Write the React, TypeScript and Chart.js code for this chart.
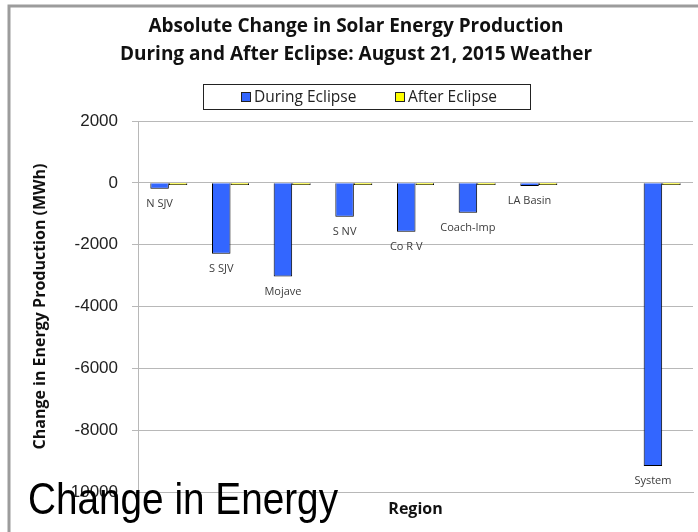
import React, { useEffect, useRef } from "react";
import { Chart, registerables } from "chart.js";

Chart.register(...registerables);

// Regions along the x axis (one empty slot before the system total)
const regions = ["N SJV", "S SJV", "Mojave", "S NV", "Co R V", "Coach-Imp", "LA Basin", "", "System"];
// Change in energy production, MWh
const duringEclipse = [-190, -2290, -3030, -1100, -1580, -970, -100, null, -9160];
const afterEclipse = [-70, -70, -70, -70, -70, -70, -70, null, -70];
const yTicks = [2000, 0, -2000, -4000, -6000, -8000, -10000];

const titleLines = [
  "Absolute Change in Solar Energy Production",
  "During and After Eclipse: August 21, 2015 Weather",
];
const yAxisTitle = "Change in Energy Production (MWh)";
const xAxisTitle = "Region";
const captionText = "Change in Energy";

const seriesColors = ["#3366ff", "#ffff00"];
const barBorder = "#000000";
const gridColor = "#b8b8b8";
const SANS = '"Open Sans", "Noto Sans", sans-serif';
const ARIAL = '"Liberation Sans", Arial, sans-serif';

const decorPlugin = {
  id: "decor",
  beforeDraw(chart: any) {
    const { ctx, width, height } = chart;
    ctx.save();
    ctx.fillStyle = "#ffffff";
    ctx.fillRect(0, 0, width, height);
    // outer frame (left and top edges)
    ctx.strokeStyle = "#9c9c9c";
    ctx.lineWidth = 3;
    ctx.beginPath();
    ctx.moveTo(9, height);
    ctx.lineTo(9, 6);
    ctx.lineTo(width, 6);
    ctx.stroke();
    ctx.restore();
  },
  afterDatasetsDraw(chart: any) {
    const { ctx } = chart;
    const meta = chart.getDatasetMeta(0);
    ctx.save();
    ctx.font = `11px ${SANS}`;
    ctx.fillStyle = "#3c3c3c";
    ctx.textAlign = "center";
    ctx.textBaseline = "middle";
    meta.data.forEach((el: any, i: number) => {
      const name = regions[i];
      if (!name || duringEclipse[i] == null) return;
      ctx.fillText(name, el.x, el.y + 15);
    });
    ctx.restore();
  },
  afterDraw(chart: any) {
    const { ctx } = chart;
    ctx.save();
    // title
    ctx.fillStyle = "#111111";
    ctx.textAlign = "center";
    ctx.textBaseline = "middle";
    ctx.font = `bold 19px ${SANS}`;
    titleLines.forEach((line, i) => ctx.fillText(line, 356, 27 + i * 28));

    // legend box
    ctx.strokeStyle = "#222222";
    ctx.lineWidth = 1;
    ctx.strokeRect(203.5, 84.5, 327, 25);
    ctx.font = `15.5px ${SANS}`;
    ctx.textAlign = "left";
    const itemX = [241, 395];
    chart.data.datasets.forEach((ds: any, i: number) => {
      const x = itemX[i];
      ctx.fillStyle = ds.backgroundColor;
      ctx.fillRect(x + 0.5, 92.5, 9, 9);
      ctx.strokeStyle = "#222222";
      ctx.strokeRect(x + 0.5, 92.5, 9, 9);
      ctx.fillStyle = "#222222";
      ctx.fillText(ds.label, x + 13, 97.5);
    });

    // large caption over the lower-left corner
    ctx.font = `44px ${ARIAL}`;
    ctx.fillStyle = "#000000";
    ctx.textBaseline = "alphabetic";
    const w = ctx.measureText(captionText).width;
    ctx.translate(28, 514);
    ctx.scale(310 / w, 1);
    ctx.fillText(captionText, 0, 0);
    ctx.restore();
  },
};

export default function App() {
  const canvasRef = useRef<HTMLCanvasElement | null>(null);

  useEffect(() => {
    let chart: Chart | null = null;
    let cancelled = false;
    const fontsReady = (document as any).fonts
      ? Promise.all([
          (document as any).fonts.load(`bold 19px "Open Sans"`),
          (document as any).fonts.load(`15px "Open Sans"`),
          (document as any).fonts.load(`17px "Liberation Sans"`),
        ]).catch(() => null)
      : Promise.resolve(null);

    fontsReady.then(() => {
      if (cancelled || !canvasRef.current) return;
      chart = new Chart(canvasRef.current, {
        type: "bar",
        data: {
          labels: regions,
          datasets: [
            {
              label: "During Eclipse",
              data: duringEclipse,
              backgroundColor: seriesColors[0],
              borderColor: barBorder,
              borderWidth: 1,
            },
            {
              label: "After Eclipse",
              data: afterEclipse,
              backgroundColor: seriesColors[1],
              borderColor: barBorder,
              borderWidth: 1,
            },
          ],
        },
        options: {
          responsive: false,
          animation: false,
          devicePixelRatio: 1,
          datasets: { bar: { categoryPercentage: 0.6, barPercentage: 1.0 } },
          layout: { padding: { top: 121, right: 5, bottom: 0, left: 0 } },
          plugins: {
            legend: { display: false },
            title: { display: false },
            tooltip: { enabled: false },
          },
          scales: {
            x: {
              ticks: { display: false },
              grid: { display: false },
              border: { display: true, color: gridColor },
              afterFit: (s: any) => {
                s.height = 40;
              },
              title: {
                display: true,
                text: xAxisTitle,
                color: "#111111",
                font: { family: SANS, weight: "bold", size: 16 },
                padding: { top: 0, bottom: 13 },
              },
            },
            y: {
              min: -10000,
              max: 2000,
              afterBuildTicks: (s: any) => {
                s.ticks = yTicks.map((v) => ({ value: v }));
              },
              afterFit: (s: any) => {
                s.width = 138;
              },
              ticks: {
                color: "#222222",
                font: { family: ARIAL, size: 17 },
                padding: 14,
                callback: (v: any) => String(v),
              },
              grid: { color: gridColor, lineWidth: 1, tickLength: 6, drawTicks: true },
              border: { display: true, color: gridColor },
              title: {
                display: true,
                text: yAxisTitle,
                color: "#111111",
                font: { family: SANS, weight: "bold", size: 16 },
                padding: { top: 31, bottom: 0 },
              },
            },
          },
        },
        plugins: [decorPlugin],
      } as any);
    });

    return () => {
      cancelled = true;
      if (chart) chart.destroy();
    };
  }, []);

  return (
    <div style={{ position: "absolute", left: 0, top: 0, width: 698, height: 532 }}>
      <canvas ref={canvasRef} width={698} height={532} style={{ display: "block" }} />
    </div>
  );
}
